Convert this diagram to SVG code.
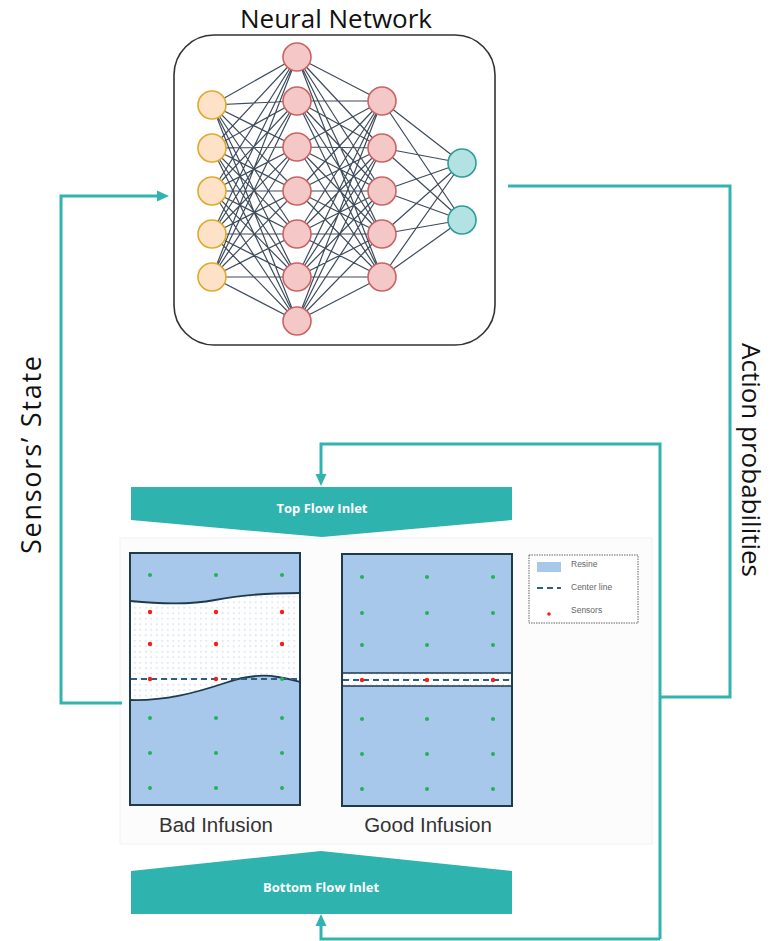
<svg xmlns="http://www.w3.org/2000/svg" width="771" height="941" viewBox="0 0 771 941">
<style>
.t{font-family:"Liberation Sans",Arial,sans-serif}
.o{font-family:"Open Sans","Liberation Sans",sans-serif}
.edge{fill:none;stroke:#3d4b5c;stroke-width:1.2}
.in{fill:#fde2c8;stroke:#e0a92a;stroke-width:1.6}
.hid{fill:#f5c8c8;stroke:#c96464;stroke-width:1.6}
.out{fill:#b3e2e2;stroke:#2f9c9c;stroke-width:1.6}
.con{fill:none;stroke:#31b4b0;stroke-width:3}
.inlet{fill:#2fb3af}
.itxt{font-family:"Open Sans","Liberation Sans",sans-serif;font-weight:bold;font-size:13px;fill:#fff;text-anchor:middle}
.resin{fill:#a7c8ea}
.frame{fill:none;stroke:#1f3a4e;stroke-width:2}
.curve{fill:none;stroke:#1f3a4e;stroke-width:1.8}
.cl{stroke:#2e5e7e;stroke-width:1.8;stroke-dasharray:6 4}
.g{fill:#1fb455}
.r{fill:#ff1a1a}
.lg{font-family:"Liberation Sans",Arial,sans-serif;font-size:8.5px;fill:#666}
.cap{font-family:"Liberation Sans",Arial,sans-serif;font-size:20.5px;fill:#333;text-anchor:middle}
</style>
<defs>
<pattern id="dots" width="5.5" height="5.5" patternUnits="userSpaceOnUse">
<rect width="5.5" height="5.5" fill="#fff"/>
<circle cx="2.75" cy="2.75" r="0.6" fill="#9cbddd"/>
</pattern>
<marker id="ah" viewBox="0 0 12 12" markerWidth="12" markerHeight="12" markerUnits="userSpaceOnUse" refX="6" refY="6" orient="auto">
<path d="M0,0.5 L12,6 L0,11.5 Z" fill="#31b4b0"/>
</marker>
</defs>
<rect width="771" height="941" fill="#fff"/>

<g id="neural-network">
<text class="o" x="336" y="28" font-size="26" text-anchor="middle" fill="#111">Neural Network</text>
<rect x="174" y="35" width="321" height="310" rx="40" ry="40" fill="#fff" stroke="#333" stroke-width="1.6"/>
<path class="edge" d="M212 105L297 57M212 105L297 101M212 105L297 147M212 105L297 191M212 105L297 234M212 105L297 277M212 105L297 321M212 148L297 57M212 148L297 101M212 148L297 147M212 148L297 191M212 148L297 234M212 148L297 277M212 148L297 321M212 191L297 57M212 191L297 101M212 191L297 147M212 191L297 191M212 191L297 234M212 191L297 277M212 191L297 321M212 234L297 57M212 234L297 101M212 234L297 147M212 234L297 191M212 234L297 234M212 234L297 277M212 234L297 321M212 277L297 57M212 277L297 101M212 277L297 147M212 277L297 191M212 277L297 234M212 277L297 277M212 277L297 321"/>
<path class="edge" d="M297 57L382 101M297 57L382 148M297 57L382 191M297 57L382 234M297 57L382 277M297 101L382 101M297 101L382 148M297 101L382 191M297 101L382 234M297 101L382 277M297 147L382 101M297 147L382 148M297 147L382 191M297 147L382 234M297 147L382 277M297 191L382 101M297 191L382 148M297 191L382 191M297 191L382 234M297 191L382 277M297 234L382 101M297 234L382 148M297 234L382 191M297 234L382 234M297 234L382 277M297 277L382 101M297 277L382 148M297 277L382 191M297 277L382 234M297 277L382 277M297 321L382 101M297 321L382 148M297 321L382 191M297 321L382 234M297 321L382 277"/>
<path class="edge" d="M382 101L462 163M382 101L462 220M382 148L462 163M382 148L462 220M382 191L462 163M382 191L462 220M382 234L462 163M382 234L462 220M382 277L462 163M382 277L462 220"/>
<g id="input-layer">
<circle class="in" cx="212" cy="105" r="14"/><circle class="in" cx="212" cy="148" r="14"/><circle class="in" cx="212" cy="191" r="14"/><circle class="in" cx="212" cy="234" r="14"/><circle class="in" cx="212" cy="277" r="14"/>
</g>
<g id="hidden-layer-1">
<circle class="hid" cx="297" cy="57" r="14"/><circle class="hid" cx="297" cy="101" r="14"/><circle class="hid" cx="297" cy="147" r="14"/><circle class="hid" cx="297" cy="191" r="14"/><circle class="hid" cx="297" cy="234" r="14"/><circle class="hid" cx="297" cy="277" r="14"/><circle class="hid" cx="297" cy="321" r="14"/>
</g>
<g id="hidden-layer-2">
<circle class="hid" cx="382" cy="101" r="14"/><circle class="hid" cx="382" cy="148" r="14"/><circle class="hid" cx="382" cy="191" r="14"/><circle class="hid" cx="382" cy="234" r="14"/><circle class="hid" cx="382" cy="277" r="14"/>
</g>
<g id="output-layer">
<circle class="out" cx="462" cy="163" r="14"/><circle class="out" cx="462" cy="220" r="14"/>
</g>
</g>

<g id="panel-background">
<rect x="120" y="538" width="532" height="306" fill="#fcfcfc" stroke="#f2f2f2" stroke-width="1"/>
</g>

<g id="connectors">
<path class="con" d="M122,703 H61 V196 H163" marker-end="url(#ah)"/>
<path class="con" d="M508,186 H730 V697 H660"/>
<path class="con" d="M660,939 V444 H321 V480" marker-end="url(#ah)"/>
<path class="con" d="M660,939 H321 V920" marker-end="url(#ah)"/>
</g>

<g id="sensors-state-label">
<text class="o" font-size="27" fill="#111" text-anchor="middle" textLength="198" lengthAdjust="spacing" transform="translate(41,455) rotate(-90)">Sensors’ State</text>
</g>
<g id="action-probabilities-label">
<text class="o" font-size="26" fill="#111" text-anchor="middle" transform="translate(742,460) rotate(90)">Action probabilities</text>
</g>

<g id="top-flow-inlet">
<polygon class="inlet" points="131,487 512,487 512,520 322,537 131,520"/>
<text class="itxt" x="322" y="513">Top Flow Inlet</text>
</g>

<g id="bottom-flow-inlet">
<polygon class="inlet" points="131,871 321,851 512,871 512,914 131,914"/>
<text class="itxt" x="321" y="892">Bottom Flow Inlet</text>
</g>

<g id="bad-infusion">
<rect x="130" y="553" width="170" height="252" fill="url(#dots)"/>
<path class="resin" d="M130,553 H300 V593 C270,593 240,595 215,600 C190,605 160,604 130,601 Z"/>
<path class="resin" d="M130,700 C165,701 195,693 225,683 C245,676 262,674 278,677 C290,679 296,681 300,682 V805 H130 Z"/>
<path class="curve" d="M130,601 C160,604 190,605 215,600 C240,595 270,593 300,593"/>
<path class="curve" d="M130,700 C165,701 195,693 225,683 C245,676 262,674 278,677 C290,679 296,681 300,682"/>
<line class="cl" x1="131" y1="679" x2="299" y2="679"/>
<rect class="frame" x="130" y="553" width="170" height="252"/>
<g>
<circle class="g" cx="150" cy="575" r="2"/><circle class="g" cx="216" cy="575" r="2"/><circle class="g" cx="282" cy="575" r="2"/>
<circle class="r" cx="150" cy="612" r="2.2"/><circle class="r" cx="216" cy="612" r="2.2"/><circle class="r" cx="282" cy="612" r="2.2"/>
<circle class="r" cx="150" cy="644" r="2.2"/><circle class="r" cx="216" cy="644" r="2.2"/><circle class="r" cx="282" cy="644" r="2.2"/>
<circle class="r" cx="150" cy="679" r="2.2"/><circle class="r" cx="216" cy="679" r="2.2"/><circle class="g" cx="282" cy="679" r="2"/>
<circle class="g" cx="150" cy="718" r="2"/><circle class="g" cx="216" cy="718" r="2"/><circle class="g" cx="282" cy="718" r="2"/>
<circle class="g" cx="150" cy="753" r="2"/><circle class="g" cx="216" cy="753" r="2"/><circle class="g" cx="282" cy="753" r="2"/>
<circle class="g" cx="150" cy="788" r="2"/><circle class="g" cx="216" cy="788" r="2"/><circle class="g" cx="282" cy="788" r="2"/>
</g>
<text class="cap" x="216" y="832">Bad Infusion</text>
</g>

<g id="good-infusion">
<rect class="resin" x="342" y="554" width="170" height="252"/>
<rect x="342" y="673" width="170" height="13" fill="url(#dots)"/>
<line x1="342" y1="673" x2="512" y2="673" stroke="#1f3a4e" stroke-width="1.6"/>
<line x1="342" y1="686" x2="512" y2="686" stroke="#1f3a4e" stroke-width="1.6"/>
<line class="cl" x1="343" y1="680" x2="511" y2="680"/>
<rect class="frame" x="342" y="554" width="170" height="252" stroke-width="2.5"/>
<g>
<circle class="g" cx="362" cy="577" r="2"/><circle class="g" cx="427" cy="577" r="2"/><circle class="g" cx="493" cy="577" r="2"/>
<circle class="g" cx="362" cy="613" r="2"/><circle class="g" cx="427" cy="613" r="2"/><circle class="g" cx="493" cy="613" r="2"/>
<circle class="g" cx="362" cy="645" r="2"/><circle class="g" cx="427" cy="645" r="2"/><circle class="g" cx="493" cy="645" r="2"/>
<circle class="r" cx="362" cy="680" r="2.2"/><circle class="r" cx="427" cy="680" r="2.2"/><circle class="r" cx="493" cy="680" r="2.2"/>
<circle class="g" cx="362" cy="719" r="2"/><circle class="g" cx="427" cy="719" r="2"/><circle class="g" cx="493" cy="719" r="2"/>
<circle class="g" cx="362" cy="754" r="2"/><circle class="g" cx="427" cy="754" r="2"/><circle class="g" cx="493" cy="754" r="2"/>
<circle class="g" cx="362" cy="789" r="2"/><circle class="g" cx="427" cy="789" r="2"/><circle class="g" cx="493" cy="789" r="2"/>
</g>
<text class="cap" x="428" y="832">Good Infusion</text>
</g>

<g id="legend">
<rect x="529" y="555" width="109" height="68" fill="#fff" stroke="#555" stroke-width="0.9" stroke-dasharray="1.5 1"/>
<rect class="resin" x="537" y="562" width="24" height="10"/>
<text class="lg" x="571" y="567">Resine</text>
<line class="cl" x1="537" y1="588" x2="561" y2="588" stroke-width="2" stroke-dasharray="8 6"/>
<text class="lg" x="571" y="590">Center line</text>
<circle class="r" cx="549" cy="614" r="1.8"/>
<text class="lg" x="571" y="613">Sensors</text>
</g>
</svg>
